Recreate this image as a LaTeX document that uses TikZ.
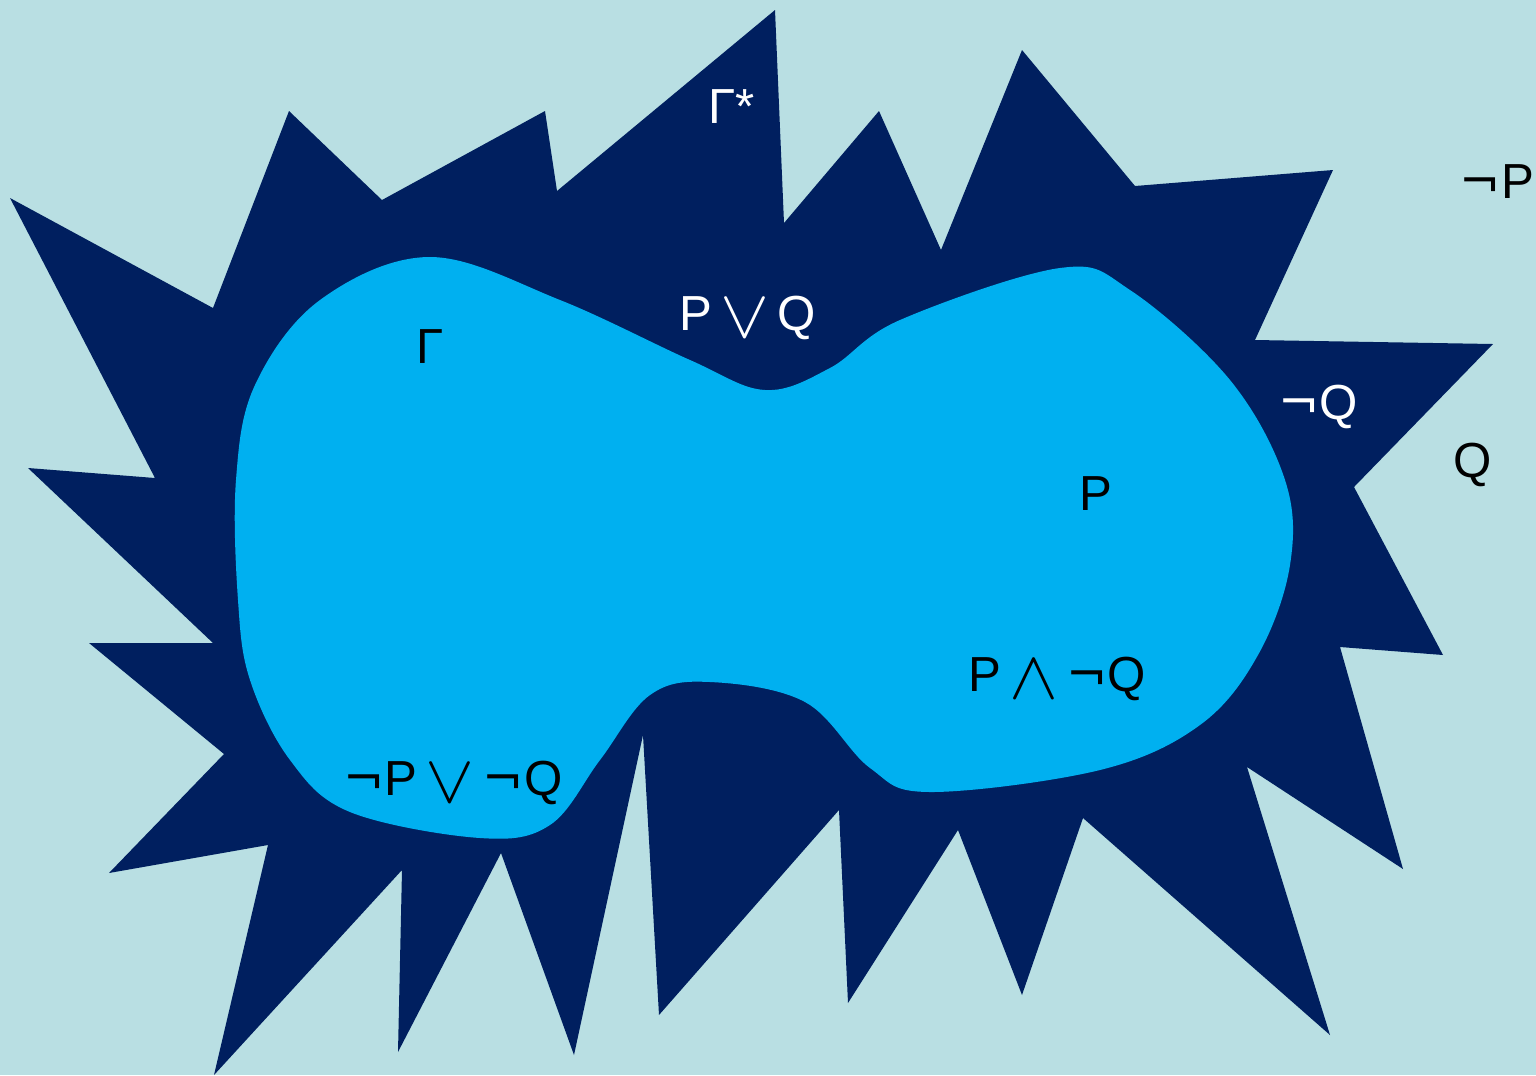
\documentclass[tikz,border=0pt]{standalone}
\usepackage{fontspec}
\setmainfont{Liberation Sans}
\newfontfamily\opsfont{DejaVu Sans}
\newcommand{\lgor}{\raisebox{-0.14em}{\scalebox{1.45}[1.35]{$\vee$}}}
\newcommand{\lgand}{\raisebox{-0.14em}{\scalebox{1.45}[1.35]{$\wedge$}}}
\newcommand{\lgnot}{{\opsfont\char"00AC}}
\definecolor{bgcol}{HTML}{B9DFE3}
\definecolor{starcol}{HTML}{001F5F}
\definecolor{blobcol}{HTML}{00B0F0}

\begin{document}
\begin{tikzpicture}[
    x=0.01cm, y=-0.01cm,
    wlabel/.style={text=white, font=\fontsize{14}{16}\selectfont, inner sep=0pt},
    blabel/.style={text=black, font=\fontsize{14}{16}\selectfont, inner sep=0pt},
]

% Background
\fill[bgcol] (0,0) rectangle (1536,1075);
\useasboundingbox (0,0) rectangle (1536,1075);

% Spiky outer set
\fill[starcol] (10,198) -- (213,308) -- (289,111) -- (382,200) -- (545,111)
  -- (557,191) -- (775,10) -- (784,223) -- (879,111) -- (941,250)
  -- (1022,50) -- (1135,186) -- (1333,170) -- (1255,340) -- (1493,344)
  -- (1354,487) -- (1443,655) -- (1340,647) -- (1403,869) -- (1247,767)
  -- (1330,1035) -- (1083,818) -- (1022,995) -- (958,830) -- (848,1003)
  -- (839,810) -- (659,1015) -- (643,735) -- (574,1055) -- (501,853)
  -- (398,1052) -- (402,870) -- (214,1075) -- (268,845) -- (109,873)
  -- (224,754) -- (89,643) -- (213,643) -- (28,468) -- (155,478) -- cycle;

% Inner blob
\fill[blobcol] plot[smooth cycle, tension=0.6] coordinates {
  (430,257) (560,300) (690,360) (765,390) (830,368) (900,320) (1060,268)
  (1130,290) (1230,380) (1285,480) (1290,565) (1258,655) (1200,725)
  (1100,770) (930,792) (870,768) (805,702) (710,682) (650,695) (600,760)
  (550,825) (480,838) (350,812) (290,760) (250,680) (238,600) (236,480)
  (255,385) (320,300)};

% Labels
\node[wlabel] (gstar) at (732,107) {Γ*};
\node[wlabel] (pvq) at (748,318) {P\,\lgor\,Q};
\node[blabel] (gamma) at (430,347) {Γ};
\node[wlabel] (nq) at (1318,407) {\lgnot Q};
\node[blabel] (p) at (1096,494) {P};
\node[blabel] (q) at (1473,465) {Q};
\node[blabel] (np) at (1497,182) {\lgnot P};
\node[blabel] (pnq) at (1057,679) {P\,\lgand\,\lgnot Q};
\node[blabel] (npvnq) at (453,783) {\lgnot P\,\lgor\,\lgnot Q};

\end{tikzpicture}
\end{document}
